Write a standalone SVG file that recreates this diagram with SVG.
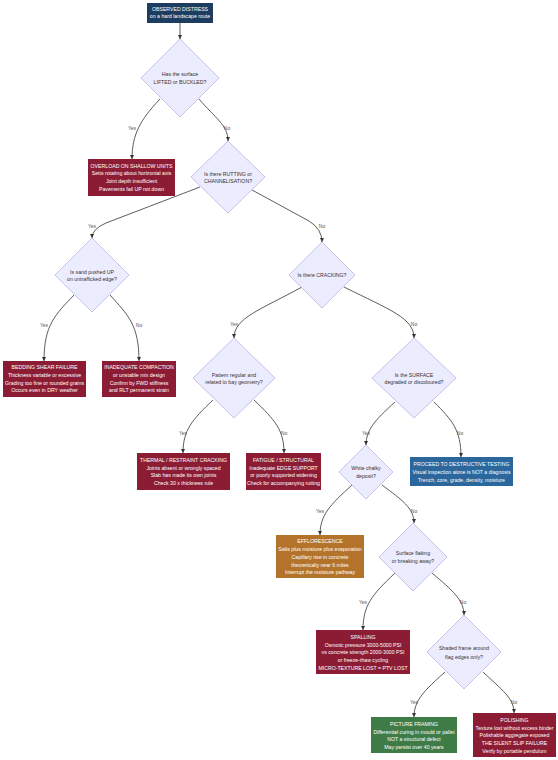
<svg xmlns="http://www.w3.org/2000/svg" width="558" height="760" viewBox="0 0 558 760">
<defs>
<marker id="arr" viewBox="0 0 8 8" refX="8" refY="4" markerWidth="4.5" markerHeight="4.5" markerUnits="userSpaceOnUse" orient="auto">
<path d="M0,0 L8,4 L0,8 z" fill="#333"/>
</marker>
<style>
text{font-family:"Liberation Sans",Arial,sans-serif;font-size:5.2px;text-anchor:middle;dominant-baseline:central}
.dia{fill:#ececff;stroke:#b3a9e0;stroke-width:0.7}
.dt{fill:#333}
.wt{fill:#fff}
.red{fill:#8c1c33}
.navy{fill:#1c3d60}
.blue{fill:#2b679c}
.orange{fill:#b3732b}
.green{fill:#3f7b47}
.edge{fill:none;stroke:#333;stroke-width:0.8;marker-end:url(#arr)}
.lbl{fill:#555;font-size:5px}
</style>
</defs>
<rect width="558" height="760" fill="#fff"/>

<g id="connectors">
<path class="edge" d="M180,23 L180,39"/>
<path class="edge" d="M160,99 C140,120 132,135 132,159"/>
<path class="edge" d="M199,99 C215,118 228,125 228,141"/>
<path class="edge" d="M200,187 L106,223 Q92,229 92,238"/>
<path class="edge" d="M252,190 L309,221 Q322,229 322,242"/>
<path class="edge" d="M74,295 C55,315 44,325 44,361"/>
<path class="edge" d="M110,295 C128,315 139,325 139,361"/>
<path class="edge" d="M302,287 C260,310 234,318 234,338"/>
<path class="edge" d="M344,287 C390,310 414,318 414,338"/>
<path class="edge" d="M213,400 C192,420 183,430 183,453"/>
<path class="edge" d="M254,400 C275,420 284,430 284,453"/>
<path class="edge" d="M395,402 C375,420 366,430 366,445"/>
<path class="edge" d="M434,402 C452,420 461,430 461,457"/>
<path class="edge" d="M352,485 C330,505 320,515 320,535"/>
<path class="edge" d="M382,485 C402,500 414,508 414,523"/>
<path class="edge" d="M395,573 C372,595 363,605 363,630"/>
<path class="edge" d="M432,573 C452,590 464,600 464,615"/>
<path class="edge" d="M445,672 C425,690 414,700 414,717"/>
<path class="edge" d="M483,672 C502,690 514,698 514,713"/>
<text class="lbl" x="132" y="128">Yes</text>
<text class="lbl" x="227" y="128">No</text>
<text class="lbl" x="92" y="226">Yes</text>
<text class="lbl" x="322" y="226">No</text>
<text class="lbl" x="44" y="325">Yes</text>
<text class="lbl" x="139" y="325">No</text>
<text class="lbl" x="234" y="324">Yes</text>
<text class="lbl" x="414" y="324">No</text>
<text class="lbl" x="183" y="433">Yes</text>
<text class="lbl" x="284" y="433">No</text>
<text class="lbl" x="366" y="433">Yes</text>
<text class="lbl" x="460" y="433">No</text>
<text class="lbl" x="320" y="511">Yes</text>
<text class="lbl" x="414" y="511">No</text>
<text class="lbl" x="363" y="602">Yes</text>
<text class="lbl" x="463" y="602">No</text>
<text class="lbl" x="414" y="702">Yes</text>
<text class="lbl" x="514" y="702">No</text>
</g>

<g id="start">
<rect class="navy" x="147" y="3" width="66" height="20"/>
<text class="wt" x="180" y="9">OBSERVED DISTRESS</text>
<text class="wt" x="180" y="16.3">on a hard landscape route</text>
</g>

<g id="q_lifted">
<polygon class="dia" points="180,39 219,78 180,117 141,78"/>
<text class="dt" x="180" y="74">Has the surface</text>
<text class="dt" x="180" y="82">LIFTED or BUCKLED?</text>
</g>

<g id="overload">
<rect class="red" x="88" y="159" width="87" height="37"/>
<text class="wt" x="131.5" y="165.5">OVERLOAD ON SHALLOW UNITS</text>
<text class="wt" x="131.5" y="173.3">Setts rotating about horizontal axis</text>
<text class="wt" x="131.5" y="181">Joint depth insufficient</text>
<text class="wt" x="131.5" y="188.7">Pavements fail UP not down</text>
</g>

<g id="q_rutting">
<polygon class="dia" points="228,141 265,177 228,213 191,177"/>
<text class="dt" x="228" y="173.5">Is there RUTTING or</text>
<text class="dt" x="228" y="181">CHANNELISATION?</text>
</g>

<g id="q_sand">
<polygon class="dia" points="92,238 129,275 92,312 55,275"/>
<text class="dt" x="92" y="271.7">Is sand pushed UP</text>
<text class="dt" x="92" y="279.3">on untrafficked edge?</text>
</g>

<g id="bedding">
<rect class="red" x="3" y="361" width="83" height="36"/>
<text class="wt" x="44.5" y="367">BEDDING SHEAR FAILURE</text>
<text class="wt" x="44.5" y="374.8">Thickness variable or excessive</text>
<text class="wt" x="44.5" y="382.6">Grading too fine or rounded grains</text>
<text class="wt" x="44.5" y="390.3">Occurs even in DRY weather</text>
</g>

<g id="compaction">
<rect class="red" x="102" y="361" width="74" height="36"/>
<text class="wt" x="139" y="367">INADEQUATE COMPACTION</text>
<text class="wt" x="139" y="374.8">or unstable mix design</text>
<text class="wt" x="139" y="382.6">Confirm by FWD stiffness</text>
<text class="wt" x="139" y="390.3">and RLT permanent strain</text>
</g>

<g id="q_cracking">
<polygon class="dia" points="322,242 355,275 322,308 289,275"/>
<text class="dt" x="322" y="275">Is there CRACKING?</text>
</g>

<g id="q_pattern">
<polygon class="dia" points="234,338 275,378 234,418 193,378"/>
<text class="dt" x="234" y="374.7">Pattern regular and</text>
<text class="dt" x="234" y="382.3">related to bay geometry?</text>
</g>

<g id="q_surface">
<polygon class="dia" points="414,338 456,378 414,418 372,378"/>
<text class="dt" x="414" y="374.7">Is the SURFACE</text>
<text class="dt" x="414" y="382.3">degraded or discoloured?</text>
</g>

<g id="thermal">
<rect class="red" x="137" y="453" width="93" height="37"/>
<text class="wt" x="183.5" y="460">THERMAL / RESTRAINT CRACKING</text>
<text class="wt" x="183.5" y="467.5">Joints absent or wrongly spaced</text>
<text class="wt" x="183.5" y="475">Slab has made its own joints</text>
<text class="wt" x="183.5" y="482.7">Check 30 x thickness rule</text>
</g>

<g id="fatigue">
<rect class="red" x="246" y="453" width="75" height="37"/>
<text class="wt" x="283.5" y="460">FATIGUE / STRUCTURAL</text>
<text class="wt" x="283.5" y="467.5">Inadequate EDGE SUPPORT</text>
<text class="wt" x="283.5" y="475">or poorly supported widening</text>
<text class="wt" x="283.5" y="482.7">Check for accompanying rutting</text>
</g>

<g id="destructive">
<rect class="blue" x="410" y="457" width="103" height="29"/>
<text class="wt" x="461.5" y="464">PROCEED TO DESTRUCTIVE TESTING</text>
<text class="wt" x="461.5" y="471.8">Visual inspection alone is NOT a diagnosis</text>
<text class="wt" x="461.5" y="479.6">Trench, core, grade, density, moisture</text>
</g>

<g id="q_chalky">
<polygon class="dia" points="366,445 393,472 366,499 339,472"/>
<text class="dt" x="366" y="468">White chalky</text>
<text class="dt" x="366" y="476">deposit?</text>
</g>

<g id="efflorescence">
<rect class="orange" x="276" y="535" width="88" height="43"/>
<text class="wt" x="320" y="541">EFFLORESCENCE</text>
<text class="wt" x="320" y="549">Salts plus moisture plus evaporation</text>
<text class="wt" x="320" y="557">Capillary rise in concrete</text>
<text class="wt" x="320" y="564.7">theoretically near 6 miles</text>
<text class="wt" x="320" y="572.3">Interrupt the moisture pathway</text>
</g>

<g id="q_flaking">
<polygon class="dia" points="413,523 447,557 413,591 379,557"/>
<text class="dt" x="413" y="553">Surface flaking</text>
<text class="dt" x="413" y="561">or breaking away?</text>
</g>

<g id="spalling">
<rect class="red" x="316" y="630" width="94" height="44"/>
<text class="wt" x="363" y="636.7">SPALLING</text>
<text class="wt" x="363" y="644.5">Osmotic pressure 3000-5000 PSI</text>
<text class="wt" x="363" y="652.2">vs concrete strength 2000-3000 PSI</text>
<text class="wt" x="363" y="660">or freeze-thaw cycling</text>
<text class="wt" x="363" y="667.5">MICRO-TEXTURE LOST = PTV LOST</text>
</g>

<g id="q_frame">
<polygon class="dia" points="464,615 501,652 464,689 427,652"/>
<text class="dt" x="464" y="648">Shaded frame around</text>
<text class="dt" x="464" y="656.7">flag edges only?</text>
</g>

<g id="picture">
<rect class="green" x="371" y="717" width="86" height="36"/>
<text class="wt" x="414" y="723.7">PICTURE FRAMING</text>
<text class="wt" x="414" y="731.5">Differential curing in mould or pallet</text>
<text class="wt" x="414" y="739.2">NOT a structural defect</text>
<text class="wt" x="414" y="746.8">May persist over 40 years</text>
</g>

<g id="polishing">
<rect class="red" x="473" y="713" width="83" height="44"/>
<text class="wt" x="514.5" y="720">POLISHING</text>
<text class="wt" x="514.5" y="727.7">Texture lost without excess binder</text>
<text class="wt" x="514.5" y="735.4">Polishable aggregate exposed</text>
<text class="wt" x="514.5" y="743">THE SILENT SLIP FAILURE</text>
<text class="wt" x="514.5" y="750.7">Verify by portable pendulum</text>
</g>
</svg>
